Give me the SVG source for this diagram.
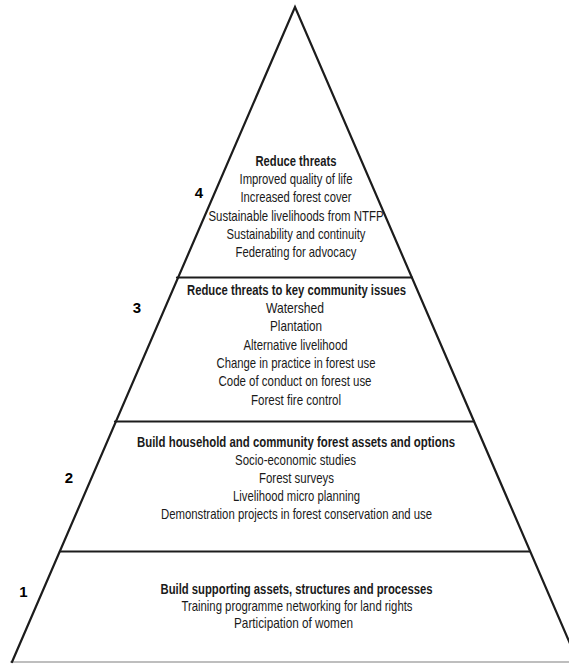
<svg xmlns="http://www.w3.org/2000/svg" width="569" height="664" viewBox="0 0 569 664">
<style>
.edge{stroke:#1c1c1c;stroke-width:2.2;fill:none;stroke-linecap:round}
.base{stroke:#a8a8a8;stroke-width:1.6}
text{font-family:"Liberation Sans","Arial",sans-serif;font-size:14.5px;fill:#1a1a1a;text-anchor:middle}
.b{font-weight:bold}
.num{font-weight:bold;font-size:15px;fill:#000}
</style>
<rect width="569" height="664" fill="#fff"/>
<g id="connectors">
<line class="base" x1="10" y1="662" x2="569" y2="662"/>
<polyline class="edge" points="12,662 295,7 578,662"/>
<line class="edge" x1="177" y1="277.5" x2="412" y2="277.5"/>
<line class="edge" x1="115" y1="421.5" x2="474" y2="421.5"/>
<line class="edge" x1="60" y1="551.5" x2="530" y2="551.5"/>
</g>
<g id="tier4">
<text class="num" x="199" y="198">4</text>
<text class="b" x="296" y="166" textLength="81" lengthAdjust="spacingAndGlyphs">Reduce threats</text>
<text x="296" y="184" textLength="113" lengthAdjust="spacingAndGlyphs">Improved quality of life</text>
<text x="296" y="202" textLength="111" lengthAdjust="spacingAndGlyphs">Increased forest cover</text>
<text x="296" y="220.5" textLength="175" lengthAdjust="spacingAndGlyphs">Sustainable livelihoods from NTFP</text>
<text x="296" y="238.5" textLength="139" lengthAdjust="spacingAndGlyphs">Sustainability and continuity</text>
<text x="296" y="256.5" textLength="121" lengthAdjust="spacingAndGlyphs">Federating for advocacy</text>
</g>
<g id="tier3">
<text class="num" x="137" y="313">3</text>
<text class="b" x="296.5" y="295" textLength="219" lengthAdjust="spacingAndGlyphs">Reduce threats to key community issues</text>
<text x="295" y="313" textLength="58" lengthAdjust="spacingAndGlyphs">Watershed</text>
<text x="296" y="331" textLength="52" lengthAdjust="spacingAndGlyphs">Plantation</text>
<text x="295.5" y="349.5" textLength="104" lengthAdjust="spacingAndGlyphs">Alternative livelihood</text>
<text x="296" y="367.5" textLength="159" lengthAdjust="spacingAndGlyphs">Change in practice in forest use</text>
<text x="295" y="386" textLength="153" lengthAdjust="spacingAndGlyphs">Code of conduct on forest use</text>
<text x="296" y="404.5" textLength="90" lengthAdjust="spacingAndGlyphs">Forest fire control</text>
</g>
<g id="tier2">
<text class="num" x="69" y="483">2</text>
<text class="b" x="296" y="446.5" textLength="318" lengthAdjust="spacingAndGlyphs">Build household and community forest assets and options</text>
<text x="295.5" y="464.5" textLength="121" lengthAdjust="spacingAndGlyphs">Socio-economic studies</text>
<text x="296.5" y="483" textLength="75" lengthAdjust="spacingAndGlyphs">Forest surveys</text>
<text x="296.5" y="501" textLength="127" lengthAdjust="spacingAndGlyphs">Livelihood micro planning</text>
<text x="296.5" y="519" textLength="271" lengthAdjust="spacingAndGlyphs">Demonstration projects in forest conservation and use</text>
</g>
<g id="tier1">
<text class="num" x="23.5" y="597">1</text>
<text class="b" x="296.5" y="593.5" textLength="272" lengthAdjust="spacingAndGlyphs">Build supporting assets, structures and processes</text>
<text x="297" y="611" textLength="231" lengthAdjust="spacingAndGlyphs">Training programme networking for land rights</text>
<text x="293.5" y="628" textLength="119" lengthAdjust="spacingAndGlyphs">Participation of women</text>
</g>
</svg>
